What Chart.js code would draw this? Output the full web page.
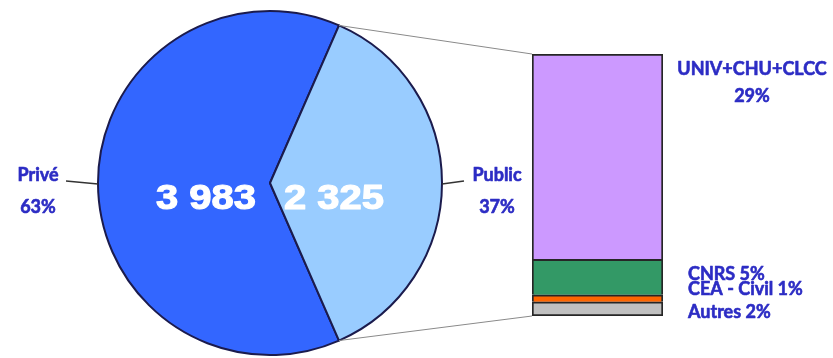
<!DOCTYPE html>
<html>
<head>
<meta charset="utf-8">
<script src="https://cdn.jsdelivr.net/npm/chart.js@4"></script>
<style>
  html, body { margin: 0; padding: 0; background: #fff; }
  #wrap { position: relative; width: 833px; height: 358px; overflow: hidden; }
  #pie { position: absolute; left: 0; top: 0; }
  #bar { position: absolute; left: 520px; top: 40px; }
</style>
</head>
<body>
<div id="wrap">
  <canvas id="pie" width="833" height="358"></canvas>
  <canvas id="bar" width="313" height="300"></canvas>
</div>
<script>
// Sector split (counts)
const sectors = ['Privé', 'Public'];
const sectorCounts = [3983, 2325];
const sectorColors = ['#3366ff', '#99ccff'];

// Breakdown of the public sector (percent of total), stacked bottom to top
const publicParts = ['Autres', 'CEA - Civil', 'CNRS', 'UNIV+CHU+CLCC'];
const publicShares = [2, 1, 5, 29];
const partColors = ['#c0c0c0', '#ff6600', '#339966', '#cc99ff'];

const LABEL_BLUE = '#2c2cc4';
const LABEL_FONT = 'bold 18px Lato, "Open Sans", sans-serif';

const total = sectorCounts.reduce((a, b) => a + b, 0);
const publicTotal = publicShares.reduce((a, b) => a + b, 0);
const publicHalfDeg = sectorCounts[1] / total * 180;

const fmtCount = v => String(v).replace(/\B(?=(\d{3})+(?!\d))/g, ' ');

// Heavier label text: fill plus a thin stroke in the same colour
function boldText(ctx, text, x, y, color, weight) {
  ctx.fillStyle = color;
  ctx.strokeStyle = color;
  ctx.lineWidth = weight;
  ctx.lineJoin = 'round';
  ctx.strokeText(text, x, y);
  ctx.fillText(text, x, y);
}

// Labels beside each stacked segment
const barLabels = {
  id: 'barLabels',
  afterDraw(chart) {
    const ctx = chart.ctx;
    const top = chart.getDatasetMeta(publicParts.length - 1).data[0];
    const right = top.x + top.width / 2;
    ctx.save();
    ctx.font = LABEL_FONT;
    ctx.textBaseline = 'alphabetic';
    // largest segment: two centred lines above
    ctx.textAlign = 'center';
    boldText(ctx, publicParts[3], right + 89, top.y + 21, LABEL_BLUE, 0.6);
    boldText(ctx, publicShares[3] + '%', right + 89, top.y + 48, LABEL_BLUE, 0.6);
    // small segments: one line each, left aligned
    const baselineShift = [9, -3.5, 2.5];
    ctx.textAlign = 'left';
    for (let i = 0; i < 3; i++) {
      const el = chart.getDatasetMeta(i).data[0];
      const cy = (el.y + el.base) / 2;
      boldText(ctx, publicParts[i] + ' ' + publicShares[i] + '%', right + 25, cy + baselineShift[i], LABEL_BLUE, 0.6);
    }
    ctx.restore();
  }
};

const barCanvas = document.getElementById('bar');
const barChart = new Chart(barCanvas, {
  type: 'bar',
  data: {
    labels: ['Public'],
    datasets: publicParts.map((name, i) => ({
      label: name,
      data: [publicShares[i]],
      backgroundColor: partColors[i],
      borderColor: '#262626',
      borderWidth: 2,
      borderSkipped: i === 0 ? false : 'start',
      barPercentage: 1,
      categoryPercentage: 1
    }))
  },
  options: {
    responsive: false,
    animation: false,
    layout: { padding: { left: 12, right: 170, top: 14, bottom: 24 } },
    scales: {
      x: { stacked: true, display: false },
      y: { stacked: true, display: false, min: 0, max: publicTotal }
    },
    plugins: { legend: { display: false }, tooltip: { enabled: false } }
  },
  plugins: [barLabels]
});

// Values inside slices, names/percents outside, and connectors to the bar
const pieLabels = {
  id: 'pieLabels',
  afterDraw(chart) {
    const ctx = chart.ctx;
    const arcs = chart.getDatasetMeta(0).data;
    ctx.save();
    arcs.forEach((arc, i) => {
      const { x, y, startAngle, endAngle, outerRadius: r } =
        arc.getProps(['x', 'y', 'startAngle', 'endAngle', 'outerRadius'], true);
      const mid = (startAngle + endAngle) / 2;
      const side = Math.cos(mid) < 0 ? -1 : 1;

      // count inside the slice
      ctx.save();
      ctx.translate(x + side * r * 0.372, y + r * 0.096);
      ctx.scale(1.14, 1);
      ctx.font = 'bold 35px "Liberation Sans", Arial, sans-serif';
      ctx.textAlign = 'center';
      ctx.textBaseline = 'middle';
      boldText(ctx, fmtCount(sectorCounts[i]), 0, 0, '#ffffff', 1.2);
      ctx.restore();

      // name and share outside
      const pct = Math.round(sectorCounts[i] / total * 100) + '%';
      const lx = side < 0 ? x - r - 60 : x + r + 55;
      ctx.font = LABEL_FONT;
      ctx.textAlign = 'center';
      ctx.textBaseline = 'alphabetic';
      boldText(ctx, sectors[i], lx, y - 2, LABEL_BLUE, 0.6);
      boldText(ctx, pct, lx, y + 30, LABEL_BLUE, 0.6);

      // leader line
      ctx.strokeStyle = '#333';
      ctx.lineWidth = 1.5;
      ctx.beginPath();
      if (side < 0) {
        ctx.moveTo(x - r - 32, y - 2);
        ctx.lineTo(x - r, y + 1);
      } else {
        ctx.moveTo(x + r, y + 1);
        ctx.lineTo(x + r + 22, y - 2);
      }
      ctx.stroke();
    });

    // connectors from the public slice edges to the stacked bar
    const pub = arcs[1].getProps(['x', 'y', 'startAngle', 'endAngle', 'outerRadius'], true);
    const topSeg = barChart.getDatasetMeta(publicParts.length - 1).data[0];
    const botSeg = barChart.getDatasetMeta(0).data[0];
    const ox = barCanvas.offsetLeft, oy = barCanvas.offsetTop;
    const barLeft = ox + topSeg.x - topSeg.width / 2;
    ctx.strokeStyle = '#8a8a8a';
    ctx.lineWidth = 1;
    ctx.beginPath();
    ctx.moveTo(pub.x + pub.outerRadius * Math.cos(pub.startAngle), pub.y + pub.outerRadius * Math.sin(pub.startAngle));
    ctx.lineTo(barLeft, oy + topSeg.y);
    ctx.moveTo(pub.x + pub.outerRadius * Math.cos(pub.endAngle), pub.y + pub.outerRadius * Math.sin(pub.endAngle));
    ctx.lineTo(barLeft, oy + botSeg.base);
    ctx.stroke();
    ctx.restore();
  }
};

new Chart(document.getElementById('pie'), {
  type: 'pie',
  data: {
    labels: sectors,
    datasets: [{
      data: sectorCounts,
      backgroundColor: sectorColors,
      borderColor: '#1b1b4d',
      borderWidth: 2
    }]
  },
  options: {
    responsive: false,
    animation: false,
    rotation: 90 + publicHalfDeg,
    layout: { padding: { left: 97, right: 390, top: 10, bottom: 2 } },
    plugins: { legend: { display: false }, tooltip: { enabled: false } }
  },
  plugins: [pieLabels]
});
</script>
</body>
</html>
